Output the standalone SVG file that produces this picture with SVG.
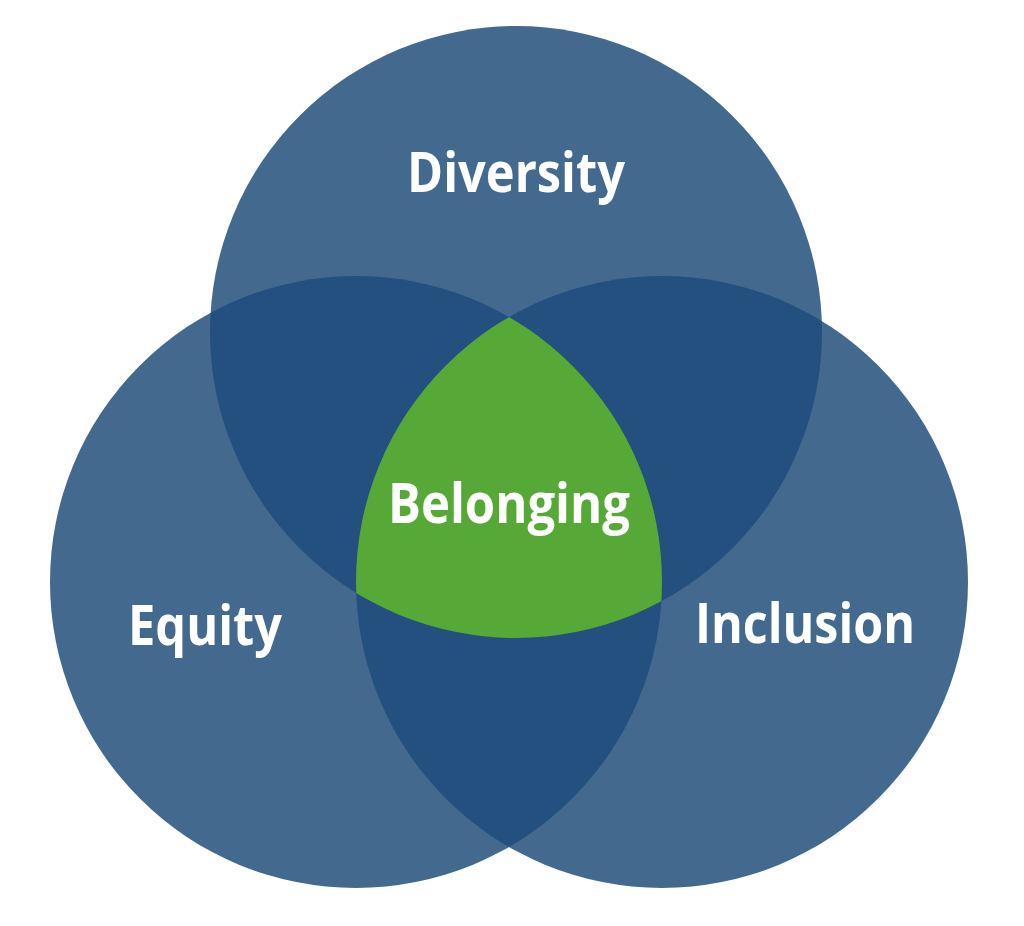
<svg xmlns="http://www.w3.org/2000/svg" width="1024" height="926" viewBox="0 0 1024 926">
  <style>
    .base { fill: #44698F; }
    .pair { fill: #23507F; }
    .core { fill: #56A936; }
    .lbl { font-family: "Open Sans", "Noto Sans", "DejaVu Sans", sans-serif; font-weight: 700; font-size: 55px; fill: #FFFFFF; text-anchor: middle; }
  </style>
  <defs>
    <clipPath id="clipTop"><circle cx="516" cy="332" r="306"/></clipPath>
    <clipPath id="clipLeft"><circle cx="356" cy="582" r="306"/></clipPath>
    <clipPath id="clipRight"><circle cx="662" cy="582" r="306"/></clipPath>
  </defs>
  <rect width="1024" height="926" fill="#FFFFFF"/>
  <g id="diversity">
    <circle class="base" cx="516" cy="332" r="306"/>
  </g>
  <g id="equity">
    <circle class="base" cx="356" cy="582" r="306"/>
  </g>
  <g id="inclusion">
    <circle class="base" cx="662" cy="582" r="306"/>
  </g>
  <g id="overlaps">
    <circle class="pair" cx="356" cy="582" r="306" clip-path="url(#clipTop)"/>
    <circle class="pair" cx="662" cy="582" r="306" clip-path="url(#clipTop)"/>
    <circle class="pair" cx="662" cy="582" r="306" clip-path="url(#clipLeft)"/>
  </g>
  <g id="belonging">
    <g clip-path="url(#clipTop)">
      <circle class="core" cx="356" cy="582" r="306" clip-path="url(#clipRight)"/>
    </g>
  </g>
  <g id="connectors"/>
  <g id="labels">
    <text class="lbl" x="516" y="192" textLength="218" lengthAdjust="spacingAndGlyphs">Diversity</text>
    <text class="lbl" x="205" y="645" textLength="154" lengthAdjust="spacingAndGlyphs">Equity</text>
    <text class="lbl" x="805" y="643" textLength="220" lengthAdjust="spacingAndGlyphs">Inclusion</text>
    <text class="lbl" x="509" y="523" textLength="242" lengthAdjust="spacingAndGlyphs">Belonging</text>
  </g>
</svg>
